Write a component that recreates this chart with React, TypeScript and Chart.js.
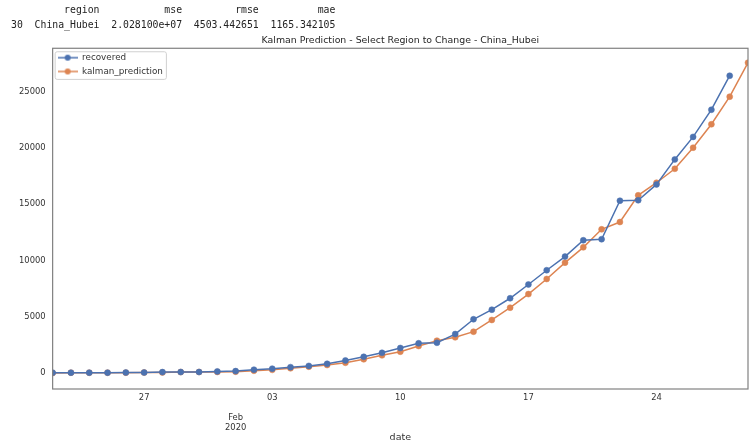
import React, { useRef, useEffect } from 'react';
import Chart from 'chart.js/auto';

// one point per day, 2020-01-22 .. 2020-02-29
const dates = [
  '2020-01-22', '2020-01-23', '2020-01-24', '2020-01-25', '2020-01-26', '2020-01-27', '2020-01-28',
  '2020-01-29', '2020-01-30', '2020-01-31', '2020-02-01', '2020-02-02', '2020-02-03', '2020-02-04',
  '2020-02-05', '2020-02-06', '2020-02-07', '2020-02-08', '2020-02-09', '2020-02-10', '2020-02-11',
  '2020-02-12', '2020-02-13', '2020-02-14', '2020-02-15', '2020-02-16', '2020-02-17', '2020-02-18',
  '2020-02-19', '2020-02-20', '2020-02-21', '2020-02-22', '2020-02-23', '2020-02-24', '2020-02-25',
  '2020-02-26', '2020-02-27', '2020-02-28', '2020-02-29',
];

const recovered = [
  28, 28, 31, 32, 42, 45, 80, 88, 90, 141,
  168, 295, 386, 522, 633, 817, 1115, 1439, 1795, 2222,
  2639, 2686, 3459, 4774, 5623, 6639, 7862, 9128, 10337, 11788,
  11881, 15299, 15343, 16748, 18971, 20969, 23383, 26403,
];

const kalmanPrediction = [
  0, 28, 28, 31, 33, 43, 47, 83, 91, 95,
  120, 200, 280, 420, 560, 710, 910, 1220, 1570, 1890,
  2400, 2870, 3170, 3670, 4710, 5800, 7010, 8350, 9800, 11160,
  12760, 13410, 15780, 16900, 18140, 20010, 22090, 24540, 27560,
];

const dayTicks = ['2020-01-27', '2020-02-03', '2020-02-10', '2020-02-17', '2020-02-24'];
const monthTick = '2020-02-01';
const monthLabel = ['Feb', '2020'];
const yTicks = [0, 5000, 10000, 15000, 20000, 25000];

const headerLines = [
  '         region           mse         rmse          mae',
  '30  China_Hubei  2.028100e+07  4503.442651  1165.342105',
];

const BLUE = '#4c72b0';
const ORANGE = '#dd8452';

const makeLegendIcon = (color: string) => {
  const c = document.createElement('canvas');
  c.width = 20;
  c.height = 8;
  const g = c.getContext('2d')!;
  g.strokeStyle = color;
  g.lineWidth = 1.5;
  g.beginPath();
  g.moveTo(0, 4);
  g.lineTo(20, 4);
  g.stroke();
  g.fillStyle = color;
  g.beginPath();
  g.arc(10, 4, 3, 0, Math.PI * 2);
  g.fill();
  return c;
};

// frame around the plot and a box behind the legend, like matplotlib
const framePlugin = {
  id: 'frame',
  afterLayout(chart: any) {
    // legend in 'chartArea' gets its top reset to 0, move it into the plot
    const lg = chart.legend;
    if (!lg) return;
    const dy = chart.chartArea.top - lg.top;
    if (dy) {
      lg.top += dy;
      lg.bottom += dy;
      (lg.legendHitBoxes || []).forEach((b: any) => { b.top += dy; });
    }
  },
  beforeDraw(chart: any) {
    const boxes = chart.legend?.legendHitBoxes;
    if (!boxes || !boxes.length) return;
    const ctx = chart.ctx;
    const left = Math.min(...boxes.map((b: any) => b.left)) - 3;
    const right = Math.max(...boxes.map((b: any) => b.left + b.width)) + 3;
    const top = boxes[0].top - 2;
    const bottom = boxes[boxes.length - 1].top + boxes[boxes.length - 1].height + 3;
    ctx.save();
    ctx.fillStyle = 'rgba(255,255,255,0.8)';
    ctx.strokeStyle = '#d0d0d0';
    ctx.lineWidth = 1;
    ctx.beginPath();
    ctx.roundRect(left + 0.5, top + 0.5, right - left, bottom - top, 2);
    ctx.fill();
    ctx.stroke();
    ctx.restore();
  },
  afterDatasetsDraw(chart: any) {
    const { ctx, chartArea } = chart;
    ctx.save();
    ctx.strokeStyle = '#808080';
    ctx.lineWidth = 1.2;
    ctx.strokeRect(chartArea.left, chartArea.top, chartArea.right - chartArea.left, chartArea.bottom - chartArea.top);
    ctx.restore();
  },
};

const App: React.FC = () => {
  const canvasRef = useRef<HTMLCanvasElement>(null);
  const chartRef = useRef<Chart | null>(null);

  useEffect(() => {
    document.body.style.margin = '0';
    if (!canvasRef.current) return;
    if (chartRef.current) chartRef.current.destroy();
    const ctx = canvasRef.current.getContext('2d');
    if (!ctx) return;

    const icons = [makeLegendIcon(BLUE), makeLegendIcon(ORANGE)];

    chartRef.current = new Chart(ctx, {
      type: 'line',
      data: {
        labels: dates,
        datasets: [
          {
            label: 'recovered',
            data: recovered,
            borderColor: BLUE,
            backgroundColor: BLUE,
            pointBackgroundColor: BLUE,
            pointBorderColor: BLUE,
            borderWidth: 1.5,
            pointRadius: 3,
            pointBorderWidth: 0.5,
            tension: 0,
            clip: 0,
          },
          {
            label: 'kalman_prediction',
            data: kalmanPrediction,
            borderColor: ORANGE,
            backgroundColor: ORANGE,
            pointBackgroundColor: ORANGE,
            pointBorderColor: ORANGE,
            borderWidth: 1.5,
            pointRadius: 3,
            pointBorderWidth: 0.5,
            tension: 0,
            clip: 0,
          },
        ],
      },
      options: {
        responsive: false,
        animation: false,
        layout: { padding: { left: 12, right: 8, top: 35, bottom: 5 } },
        scales: {
          x: {
            type: 'category',
            offset: false,
            grid: { display: false, drawTicks: false },
            border: { display: false },
            afterFit: (scale: any) => {
              scale.height = 54;
            },
            ticks: {
              autoSkip: false,
              maxRotation: 0,
              minRotation: 0,
              padding: 4,
              color: '#333',
              font: { family: 'DejaVu Sans', size: 8.4 },
              callback: (_v: any, i: number) => {
                const d = dates[i];
                if (dayTicks.includes(d)) return d.slice(8);
                if (d === monthTick) return ['', '', ...monthLabel];
                return '';
              },
            },
            title: {
              display: true,
              text: 'date',
              color: '#333',
              font: { family: 'DejaVu Sans', size: 9.5 },
              padding: { top: 2, bottom: 0 },
            },
          },
          y: {
            min: -1420,
            max: 28840,
            grid: { display: false, drawTicks: false },
            border: { display: false },
            afterBuildTicks: (scale: any) => {
              scale.ticks = yTicks.map(v => ({ value: v }));
            },
            ticks: {
              padding: 7,
              color: '#333',
              font: { family: 'DejaVu Sans', size: 8.4 },
              callback: (v: any) => String(v),
            },
          },
        },
        plugins: {
          title: {
            display: true,
            fullSize: false,
            text: 'Kalman Prediction - Select Region to Change - China_Hubei',
            color: '#262626',
            font: { family: 'DejaVu Sans', size: 9.4, weight: 'normal' },
            padding: { top: 0, bottom: 2 },
          },
          legend: {
            position: 'chartArea',
            align: 'start',
            labels: {
              usePointStyle: true,
              pointStyleWidth: 20,
              padding: 5,
              color: '#333',
              font: { family: 'DejaVu Sans', size: 8.8 },
              generateLabels: (chart: any) =>
                chart.data.datasets.map((ds: any, i: number) => ({
                  text: ds.label,
                  pointStyle: icons[i],
                  fillStyle: ds.borderColor,
                  strokeStyle: ds.borderColor,
                  lineWidth: 0,
                  hidden: false,
                  datasetIndex: i,
                  fontColor: '#333',
                })),
            },
          },
          tooltip: { enabled: false },
        },
      },
      plugins: [framePlugin],
    } as any);

    return () => {
      if (chartRef.current) {
        chartRef.current.destroy();
        chartRef.current = null;
      }
    };
  }, []);

  return (
    <div style={{ position: 'relative', width: 756, height: 448, background: '#fff' }}>
      <pre
        style={{
          position: 'absolute',
          top: 2,
          left: 11,
          margin: 0,
          fontFamily: 'DejaVu Sans Mono',
          fontSize: '9.8px',
          lineHeight: '15px',
          color: '#222',
        }}
      >
        {headerLines.join('\n')}
      </pre>
      <canvas ref={canvasRef} width={756} height={448} style={{ display: 'block', width: 756, height: 448 }}></canvas>
    </div>
  );
};

export default App;
